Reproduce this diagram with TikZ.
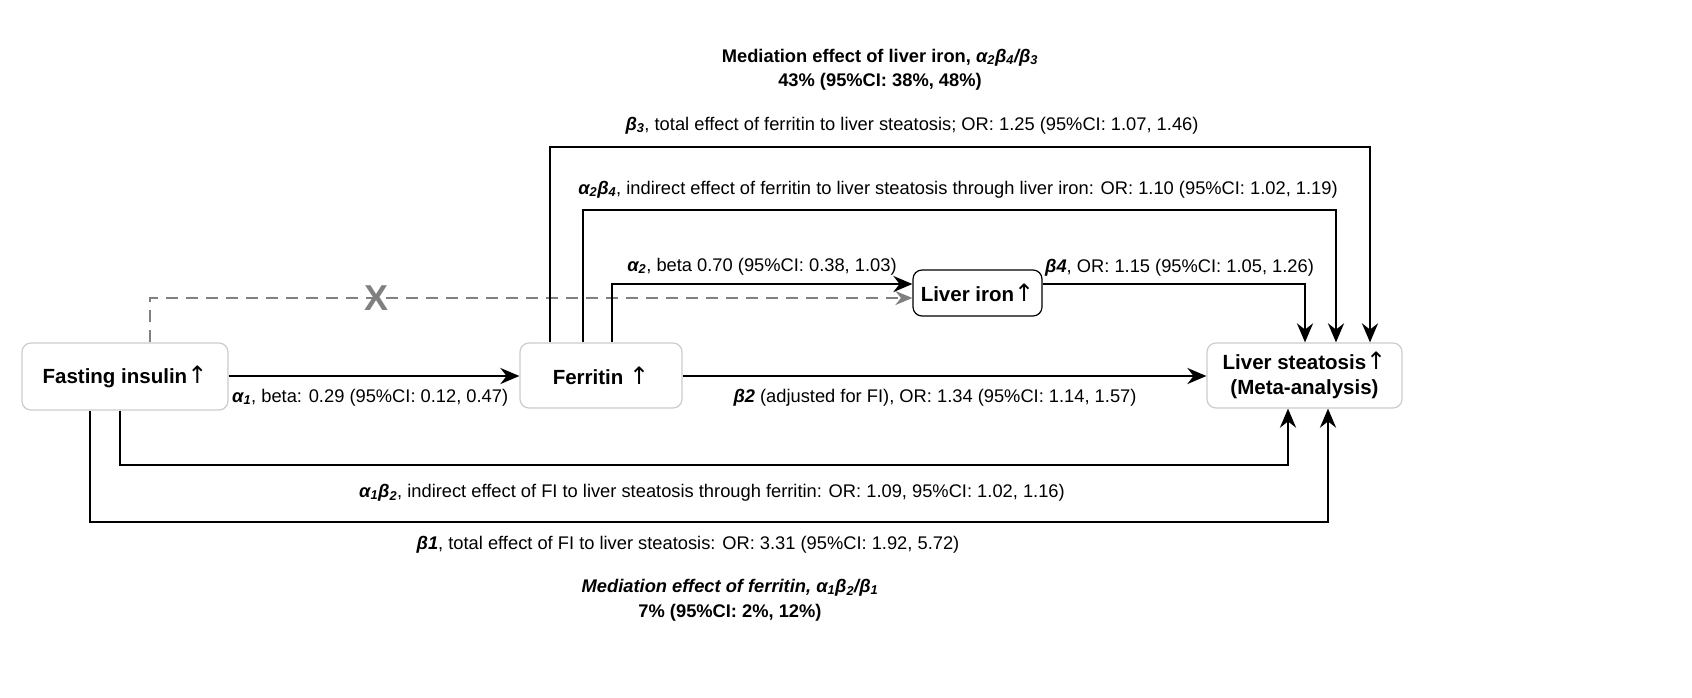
\documentclass[tikz,border=0pt]{standalone}
\usepackage{fontspec}
\setmainfont{Liberation Sans}
\newfontfamily\arrfont{DejaVu Sans}
\usetikzlibrary{arrows.meta}
\newcommand{\gk}[2]{{\bfseries\itshape #1\textsubscript{#2}}}
\newcommand{\up}{{\arrfont\mdseries\fontsize{24}{24}\selectfont ↑}}
\begin{document}
\begin{tikzpicture}[x=1pt,y=-1pt,font=\fontsize{18.3}{22}\selectfont,
  box/.style={draw=gray!40,line width=1.2pt,rounded corners=9pt,fill=white,font=\fontsize{20.5}{25}\selectfont\bfseries,align=center,inner sep=0pt},
  conn/.style={line width=2.6pt,-{Stealth[length=19pt,width=16pt]}},
  lbl/.style={inner sep=0pt,anchor=base}]
\useasboundingbox (0,0) rectangle (1692,697);
\node[box,minimum width=206pt,minimum height=67pt] (fi) at (125,376.5) {Fasting insulin\up};
\node[box,minimum width=162pt,minimum height=65pt] (fe) at (601,375.5) {Ferritin \up};
\node[box,draw=black,minimum width=129pt,minimum height=46pt] (li) at (977.5,293) {Liver iron\up};
\node[box,minimum width=195pt,minimum height=65pt] (ls) at (1304.5,375.5) {Liver steatosis\up\\(Meta-analysis)};
% dashed
\coordinate (d1) at (150,298);
\draw[gray,dash pattern=on 12pt off 8pt,line width=2.4pt,-{Stealth[length=17pt,width=14pt]}] (fi.north -| d1) -- (d1) -- (li.west |- d1);
\node[text=gray,font=\fontsize{36}{36}\selectfont\bfseries,inner sep=0pt] (x) at (377,298) {X};
% direct
\draw[conn] (fi.east |- 0,376) -- (fe.west |- 0,376);
\draw[conn] (fe.east |- 0,376) -- (ls.west |- 0,376);
\node[lbl,anchor=base west] (la1) at (232,402) {\gk{α}{1}, beta: 0.29 (95\%CI: 0.12, 0.47)};
\node[lbl] (lb2) at (935,402) {{\bfseries\itshape β2} (adjusted for FI), OR: 1.34 (95\%CI: 1.14, 1.57)};
% alpha2
\coordinate (a2) at (612,284);
\draw[conn] (fe.north -| a2) -- (a2) -- (li.west |- a2);
\node[lbl] (la2) at (762,271) {\gk{α}{2}, beta 0.70 (95\%CI: 0.38, 1.03)};
% beta4
\coordinate (b4) at (1305,284);
\draw[conn] (li.east |- b4) -- (b4) -- (ls.north -| b4);
\node[lbl,anchor=base west] (lb4) at (1045,272) {{\bfseries\itshape β4}, OR: 1.15 (95\%CI: 1.05, 1.26)};
% a2b4
\coordinate (c1) at (583,210); \coordinate (c2) at (1336,210);
\draw[conn] (fe.north -| c1) -- (c1) -- (c2) -- (ls.north -| c2);
\node[lbl] (lab) at (958,194) {{\bfseries\itshape α\textsubscript{2}β\textsubscript{4}}, indirect effect of ferritin to liver steatosis through liver iron: OR: 1.10 (95\%CI: 1.02, 1.19)};
% beta3
\coordinate (e1) at (550,147); \coordinate (e2) at (1370,147);
\draw[conn] (fe.north -| e1) -- (e1) -- (e2) -- (ls.north -| e2);
\node[lbl] (lb3) at (912,130) {\gk{β}{3}, total effect of ferritin to liver steatosis; OR: 1.25 (95\%CI: 1.07, 1.46)};
% a1b2
\coordinate (f1) at (120,465); \coordinate (f2) at (1288,465);
\draw[conn] (fi.south -| f1) -- (f1) -- (f2) -- (ls.south -| f2);
\node[lbl] (lab2) at (712,497) {{\bfseries\itshape α\textsubscript{1}β\textsubscript{2}}, indirect effect of FI to liver steatosis through ferritin: OR: 1.09, 95\%CI: 1.02, 1.16)};
% beta1
\coordinate (g1) at (90,522); \coordinate (g2) at (1328,522);
\draw[conn] (fi.south -| g1) -- (g1) -- (g2) -- (ls.south -| g2);
\node[lbl] (lb1) at (688,549) {{\bfseries\itshape β1}, total effect of FI to liver steatosis: OR: 3.31 (95\%CI: 1.92, 5.72)};
% titles
\node[lbl,font=\fontsize{18.3}{22}\selectfont\bfseries] (t1) at (880,62) {Mediation effect of liver iron, {\itshape α\textsubscript{2}β\textsubscript{4}/β\textsubscript{3}}};
\node[lbl,font=\fontsize{18.3}{22}\selectfont\bfseries] (t2) at (880,86) {43\% (95\%CI: 38\%, 48\%)};
\node[lbl,font=\fontsize{18.3}{22}\selectfont\bfseries\itshape] (t3) at (730,592) {Mediation effect of ferritin, α\textsubscript{1}β\textsubscript{2}/β\textsubscript{1}};
\node[lbl,font=\fontsize{18.3}{22}\selectfont\bfseries] (t4) at (730,617) {7\% (95\%CI: 2\%, 12\%)};
\end{tikzpicture}
\end{document}
